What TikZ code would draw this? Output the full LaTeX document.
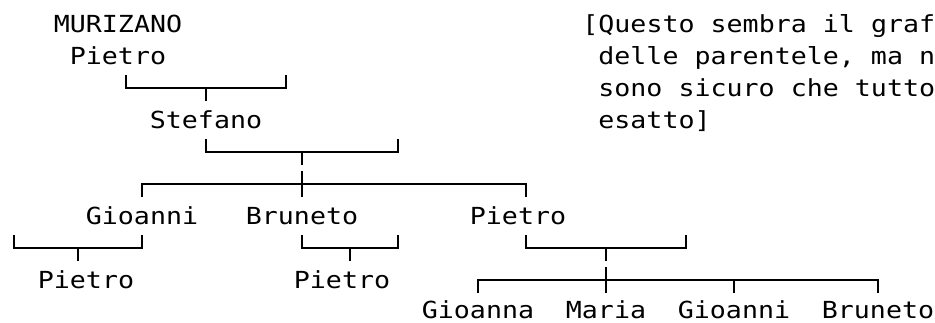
\documentclass[tikz,border=0pt]{standalone}
\usepackage{fontspec}
\newfontfamily\albero[FakeStretch=1.134]{DejaVu Sans Mono}
\tikzset{
 nome/.style={anchor=base,inner sep=0pt,font=\albero\fontsize{13.37}{18.21}\selectfont},
 linea/.style={line width=1.1pt}
}
\begin{document}
\begin{tikzpicture}[x=.02cm,y=-.02cm]
 \useasboundingbox (0,0) rectangle (935,322);
 % nomi
 \node[nome] (mur) at (118,32.3) {MURIZANO};
 \node[nome] (pietro) at (118,64.3) {Pietro};
 \node[nome] (stefano) at (206,128.3) {Stefano};
 \node[nome] (gioanni) at (142,224.3) {Gioanni};
 \node[nome] (bruneto) at (302,224.3) {Bruneto};
 \node[nome] (pietroS) at (518,224.3) {Pietro};
 \node[nome] (pietroG) at (86,288.3) {Pietro};
 \node[nome] (pietroB) at (342,288.3) {Pietro};
 \node[nome] (gioanna) at (478,318.5) {Gioanna};
 \node[nome] (maria) at (606,318.5) {Maria};
 \node[nome] (gioanniP) at (734,318.5) {Gioanni};
 \node[nome] (brunetoP) at (878,318.5) {Bruneto};
 % nota
 \node[nome,anchor=base west] (nota1) at (582,32.3) {[Questo sembra il graf};
 \node[nome,anchor=base west] (nota2) at (598,64.3) {delle parentele, ma n};
 \node[nome,anchor=base west] (nota3) at (598,96.3) {sono sicuro che tutto};
 \node[nome,anchor=base west] (nota4) at (598,128.3) {esatto]};
 % parentele
 \coordinate (p1) at (126,75); \coordinate (p2) at (286,75);
 \coordinate (p3) at (206,88); \coordinate (p4) at (206,101);
 \draw[linea] (p1) |- (p3) -| (p2); \draw[linea] (p3) -- (p4);
 \coordinate (s1) at (206,139); \coordinate (s2) at (398,139);
 \coordinate (s3) at (302,152); \coordinate (s4) at (302,165);
 \draw[linea] (s1) |- (s3) -| (s2); \draw[linea] (s3) -- (s4);
 \coordinate (f1) at (142,197); \coordinate (f2) at (526,197);
 \coordinate (f0) at (302,184); \coordinate (f3) at (302,171); \coordinate (f4) at (302,197);
 \draw[linea] (f1) |- (f0) -| (f2); \draw[linea] (f3) -- (f4);
 \coordinate (g1) at (14,235); \coordinate (g2) at (142,235);
 \coordinate (g3) at (78,248); \coordinate (g4) at (78,261);
 \draw[linea] (g1) |- (g3) -| (g2); \draw[linea] (g3) -- (g4);
 \coordinate (b1) at (302,235); \coordinate (b2) at (398,235);
 \coordinate (b3) at (350,248); \coordinate (b4) at (350,261);
 \draw[linea] (b1) |- (b3) -| (b2); \draw[linea] (b3) -- (b4);
 \coordinate (q1) at (526,235); \coordinate (q2) at (686,235);
 \coordinate (q3) at (606,248); \coordinate (q4) at (606,261);
 \draw[linea] (q1) |- (q3) -| (q2); \draw[linea] (q3) -- (q4);
 \coordinate (n1) at (478,293); \coordinate (n2) at (878,293);
 \coordinate (n0) at (606,280); \coordinate (n3) at (606,267); \coordinate (n4) at (606,293);
 \coordinate (n5) at (734,293);
 \draw[linea] (n1) |- (n0) -| (n2); \draw[linea] (n3) -- (n4); \draw[linea] (n5) -- (n5 |- n0);
\end{tikzpicture}
\end{document}
